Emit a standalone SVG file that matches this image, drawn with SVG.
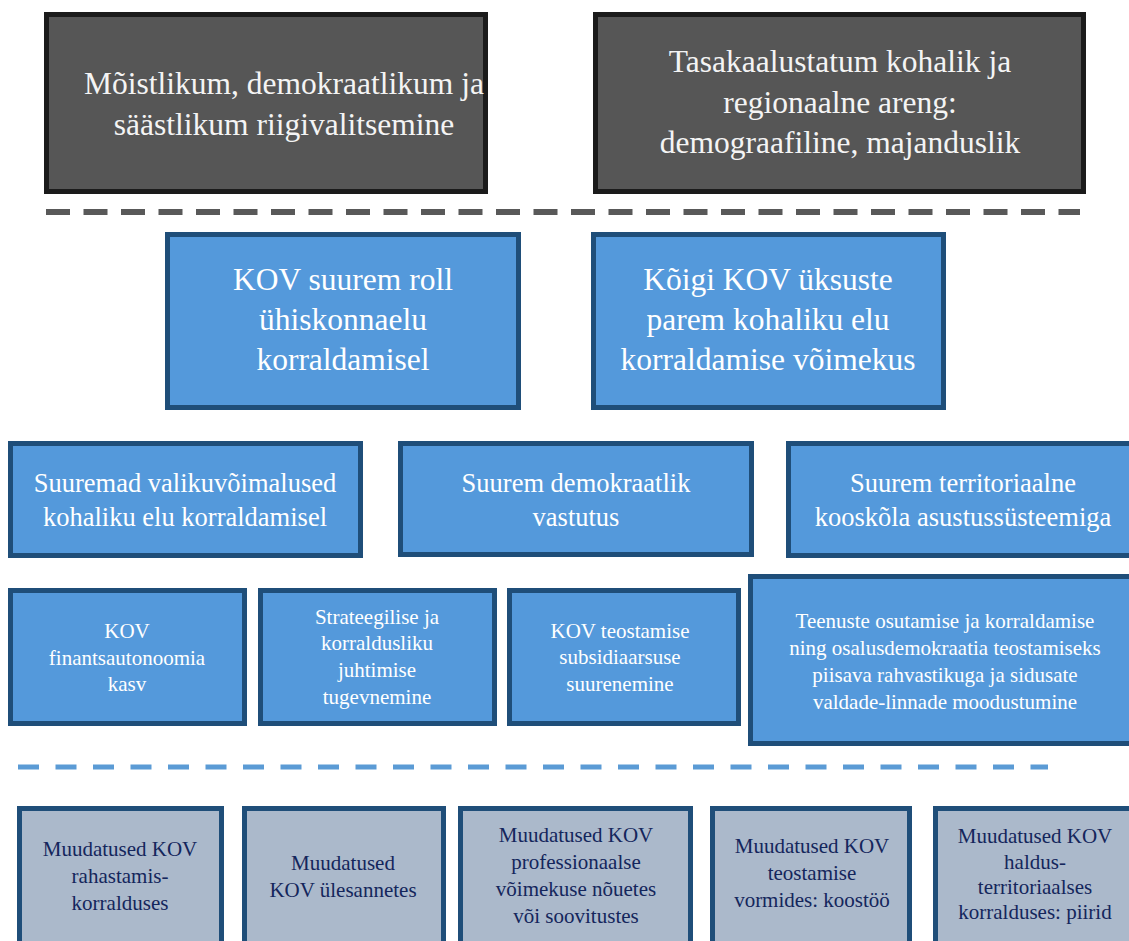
<svg xmlns="http://www.w3.org/2000/svg" width="1129" height="941" viewBox="0 0 1129 941" font-family="'Liberation Serif', Tinos, 'Times New Roman', 'DejaVu Serif', serif">
<style>
text{font-family:'Liberation Serif', Tinos, 'Times New Roman', 'DejaVu Serif', serif;text-anchor:middle}
.dk rect{fill:#565656;stroke:#1b1b1b;stroke-width:5}
.dk text{fill:#f4f4f4;font-size:31.5px}
.bl rect{fill:#5499db;stroke:#1f4e79;stroke-width:5}
.bl text{fill:#ffffff}
.gr rect{fill:#abb9cb;stroke:#1f4e79;stroke-width:5}
.gr text{fill:#14265c;font-size:21px}
.t30{font-size:31.5px}.t26{font-size:26.5px}.t20{font-size:21px}
</style>
<rect width="1129" height="941" fill="#ffffff"/>
<g id="connectors">
<line x1="46" y1="212" x2="1080" y2="212" stroke="#595959" stroke-width="6" stroke-dasharray="24 13.5"/>
<line x1="18" y1="767" x2="1048" y2="767" stroke="#5b9bd5" stroke-width="5" stroke-dasharray="21 16.5"/>
</g>
<g id="n1" class="dk"><rect x="46.5" y="14.5" width="439" height="177"/><text x="284" y="94">Mõistlikum, demokraatlikum ja</text><text x="284" y="135">säästlikum riigivalitsemine</text></g>
<g id="n2" class="dk"><rect x="595.5" y="14.5" width="488" height="177"/><text x="840" y="72">Tasakaalustatum kohalik ja</text><text x="840" y="113">regionaalne areng:</text><text x="840" y="153">demograafiline, majanduslik</text></g>
<g id="n3" class="bl"><rect x="167.5" y="234.5" width="351" height="173"/><text class="t30" x="343" y="290">KOV suurem roll</text><text class="t30" x="343" y="330">ühiskonnaelu</text><text class="t30" x="343" y="370">korraldamisel</text></g>
<g id="n4" class="bl"><rect x="593.5" y="234.5" width="350" height="173"/><text class="t30" x="768" y="290">Kõigi KOV üksuste</text><text class="t30" x="768" y="330">parem kohaliku elu</text><text class="t30" x="768" y="370">korraldamise võimekus</text></g>
<g id="n5" class="bl"><rect x="10.5" y="443.5" width="350" height="112"/><text class="t26" x="185" y="492">Suuremad valikuvõimalused</text><text class="t26" x="185" y="526">kohaliku elu korraldamisel</text></g>
<g id="n6" class="bl"><rect x="400.5" y="443.5" width="351" height="111"/><text class="t26" x="576" y="492">Suurem demokraatlik</text><text class="t26" x="576" y="526">vastutus</text></g>
<g id="n7" class="bl"><rect x="788.5" y="443.5" width="350" height="112"/><text class="t26" x="963" y="492">Suurem territoriaalne</text><text class="t26" x="963" y="526">kooskõla asustussüsteemiga</text></g>
<g id="n8" class="bl"><rect x="10.5" y="590.5" width="234" height="133"/><text class="t20" x="127" y="638">KOV</text><text class="t20" x="127" y="665">finantsautonoomia</text><text class="t20" x="127" y="691">kasv</text></g>
<g id="n9" class="bl"><rect x="260.5" y="590.5" width="234" height="133"/><text class="t20" x="377" y="624">Strateegilise ja</text><text class="t20" x="377" y="650">korraldusliku</text><text class="t20" x="377" y="677">juhtimise</text><text class="t20" x="377" y="704">tugevnemine</text></g>
<g id="n10" class="bl"><rect x="509.5" y="590.5" width="229" height="133"/><text class="t20" x="620" y="638">KOV teostamise</text><text class="t20" x="620" y="664">subsidiaarsuse</text><text class="t20" x="620" y="691">suurenemine</text></g>
<g id="n11" class="bl"><rect x="750.5" y="576.5" width="385" height="167"/><text class="t20" x="945" y="628">Teenuste osutamise ja korraldamise</text><text class="t20" x="945" y="655">ning osalusdemokraatia teostamiseks</text><text class="t20" x="945" y="682">piisava rahvastikuga ja sidusate</text><text class="t20" x="945" y="709">valdade-linnade moodustumine</text></g>
<g id="n12" class="gr"><rect x="19.5" y="808.5" width="202" height="140"/><text x="120" y="856">Muudatused KOV</text><text x="120" y="883">rahastamis-</text><text x="120" y="910">korralduses</text></g>
<g id="n13" class="gr"><rect x="244.5" y="808.5" width="199" height="140"/><text x="343" y="870">Muudatused</text><text x="343" y="897">KOV ülesannetes</text></g>
<g id="n14" class="gr"><rect x="460.5" y="808.5" width="230" height="140"/><text x="576" y="842">Muudatused KOV</text><text x="576" y="869">professionaalse</text><text x="576" y="896">võimekuse nõuetes</text><text x="576" y="923">või soovitustes</text></g>
<g id="n15" class="gr"><rect x="712.5" y="808.5" width="197" height="140"/><text x="812" y="853">Muudatused KOV</text><text x="812" y="880">teostamise</text><text x="812" y="907">vormides: koostöö</text></g>
<g id="n16" class="gr"><rect x="935.5" y="808.5" width="200" height="140"/><text x="1035" y="843">Muudatused KOV</text><text x="1035" y="869">haldus-</text><text x="1035" y="894">territoriaalses</text><text x="1035" y="919">korralduses: piirid</text></g>
</svg>
